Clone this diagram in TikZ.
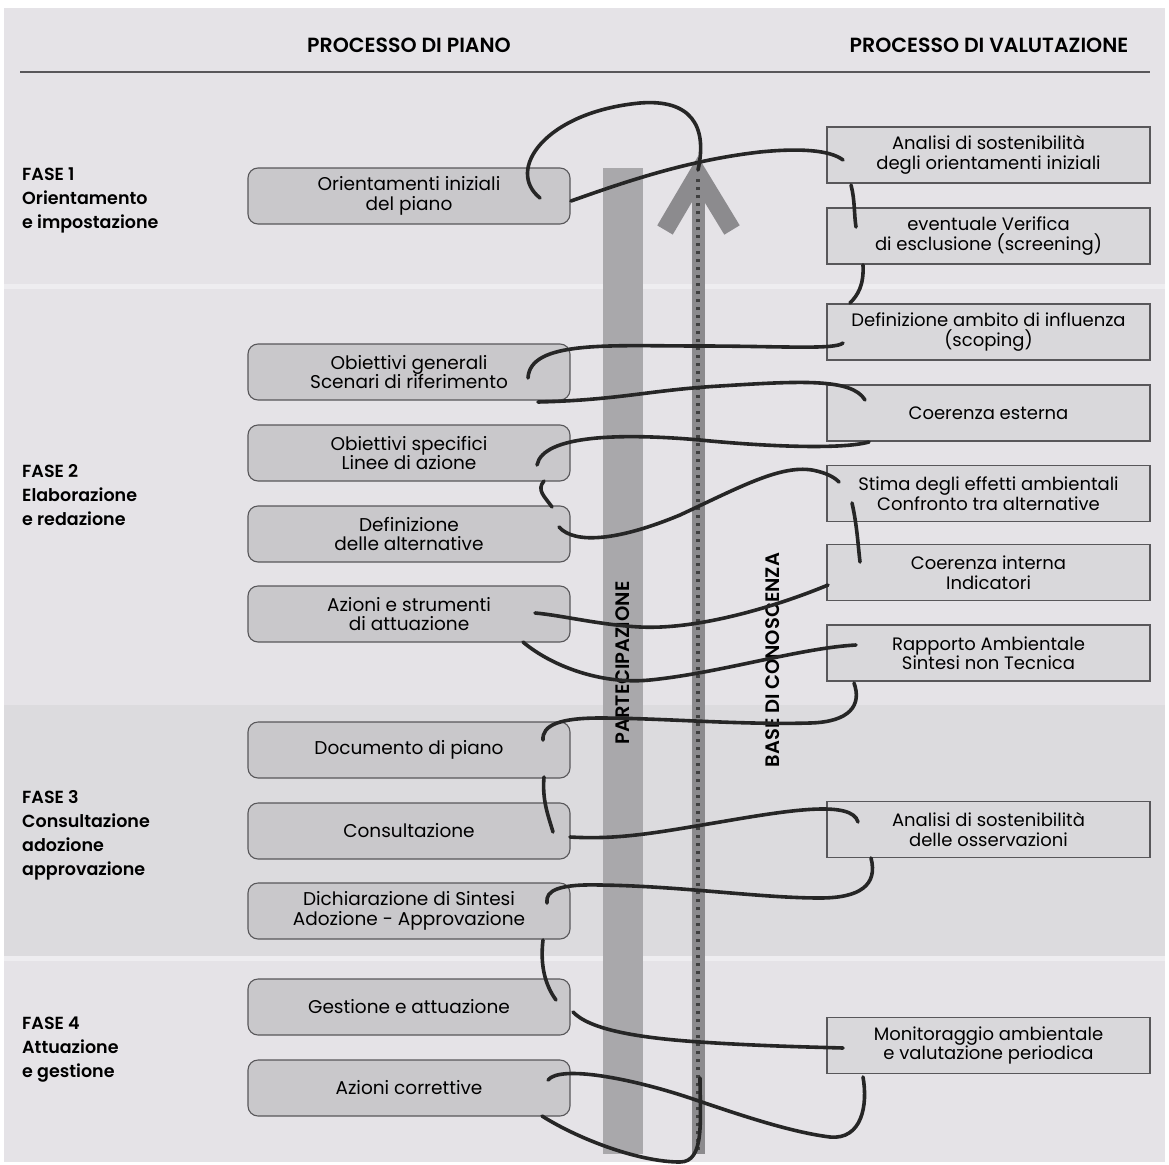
\documentclass[tikz,border=0pt]{standalone}
\usepackage{fontspec}
\setmainfont{Poppins}
\newfontfamily\psemi{Poppins SemiBold}
\usetikzlibrary{calc}
\definecolor{bgA}{HTML}{E5E3E7}
\definecolor{bgC}{HTML}{DCDBDE}
\definecolor{bandline}{HTML}{EEEDF0}
\definecolor{lfill}{HTML}{C9C8CB}
\definecolor{rfill}{HTML}{D9D8DB}
\definecolor{edge}{HTML}{58575A}
\definecolor{partbar}{HTML}{A9A8AB}
\definecolor{kshaft}{HTML}{8C8B8E}
\definecolor{thr}{HTML}{262626}
\tikzset{
  lbox/.style={draw=edge, line width=1.1pt, fill=lfill, rounded corners=10pt,
    minimum width=322pt, minimum height=56pt, align=center,
    font=\fontsize{18.5}{19.5}\selectfont, inner sep=0pt},
  rbox/.style={draw=edge, line width=1.1pt, fill=rfill,
    minimum width=323pt, minimum height=56pt, align=center,
    font=\fontsize{18}{19.5}\selectfont, inner sep=0pt},
  fase/.style={anchor=west, align=left, font=\fontsize{17.5}{24}\selectfont\psemi, inner sep=0pt},
  head/.style={font=\fontsize{20.5}{22}\selectfont\psemi, inner sep=0pt},
  vlabel/.style={rotate=90, font=\fontsize{19.5}{21}\selectfont\psemi, inner sep=0pt},
  thread/.style={draw=thr, line width=3.6pt, line cap=round},
}
\begin{document}
\begin{tikzpicture}[x=1pt,y=-1pt]
\useasboundingbox (0,0) rectangle (1169,1164);
\fill[white] (0,0) rectangle (1169,1164);
% bands
\fill[bgA] (4,8) rectangle (1165,1162);
\fill[bgC] (4,705) rectangle (1165,956);
\fill[bandline] (4,284) rectangle (1165,289);
\fill[bandline] (4,956) rectangle (1165,961);
% header
\node[head] (h1) at (409,45) {PROCESSO DI PIANO};
\node[head] (h2) at (989,45) {PROCESSO DI VALUTAZIONE};
\coordinate (hl1) at (20,72);
\coordinate (hl2) at (1150,72);
\draw[line width=1.2pt, edge] (hl1) -- (hl2);
% fase labels
\node[fase] (f1) at (22,200) {FASE 1\\Orientamento\\e impostazione};
\node[fase] (f2) at (22,495) {FASE 2\\Elaborazione\\e redazione};
\node[fase] (f3) at (22,835) {FASE 3\\Consultazione\\adozione\\approvazione};
\node[fase] (f4) at (22,1050) {FASE 4\\Attuazione\\e gestione};
% partecipazione bar
\fill[partbar] (603,168) rectangle (643,1154);
\node[vlabel] (part) at (623,663) {PARTECIPAZIONE};
% base di conoscenza arrow
\coordinate (kb) at (698,1154);
\coordinate (kt) at (698,170);
\draw[kshaft, line width=13pt] (kb) -- (kt);
\draw[black!75, line width=4pt, dash pattern=on 3pt off 5pt] (698,1150) -- (698,176);
\draw[kshaft, line width=18pt] (665,230) -- (698,174) -- (732,230);
\draw[black!75, line width=4pt, dash pattern=on 3pt off 5pt] (698,230) -- (698,176);
\node[vlabel] (base) at (773,660) {BASE DI CONOSCENZA};
% left boxes
\node[lbox] (lb1) at (409,196) {Orientamenti iniziali\\del piano};
\node[lbox] (lb2) at (409,372) {Obiettivi generali\\Scenari di riferimento};
\node[lbox] (lb3) at (409,453) {Obiettivi specifici\\Linee di azione};
\node[lbox] (lb4) at (409,534) {Definizione\\delle alternative};
\node[lbox] (lb5) at (409,614) {Azioni e strumenti\\di attuazione};
\node[lbox] (lb6) at (409,750) {Documento di piano};
\node[lbox] (lb7) at (409,831) {Consultazione};
\node[lbox] (lb8) at (409,911) {Dichiarazione di Sintesi\\Adozione - Approvazione};
\node[lbox] (lb9) at (409,1007) {Gestione e attuazione};
\node[lbox] (lb10) at (409,1088) {Azioni correttive};
% right boxes
\node[rbox] (rb1) at (988.5,155) {Analisi di sostenibilità\\degli orientamenti iniziali};
\node[rbox] (rb2) at (988.5,236) {eventuale Verifica\\di esclusione (screening)};
\node[rbox] (rb3) at (988.5,332) {Definizione ambito di influenza\\(scoping)};
\node[rbox] (rb4) at (988.5,413) {Coerenza esterna};
\node[rbox] (rb5) at (988.5,493.5) {Stima degli effetti ambientali\\Confronto tra alternative};
\node[rbox] (rb6) at (988.5,572.5) {Coerenza interna\\Indicatori};
\node[rbox] (rb7) at (988.5,653) {Rapporto Ambientale\\Sintesi non Tecnica};
\node[rbox] (rb8) at (988.5,829.5) {Analisi di sostenibilità\\delle osservazioni};
\node[rbox] (rb9) at (988.5,1045.5) {Monitoraggio ambientale\\e valutazione periodica};
% thread points
\coordinate (t0) at (540,198);
\coordinate (t0e) at (698,170);
\coordinate (t1) at (571,201);
\coordinate (t2) at (843,160);
\coordinate (t3) at (851,185);
\coordinate (t4) at (856,227);
\coordinate (t5) at (863,265);
\coordinate (t6) at (850,303);
\coordinate (t7) at (843,343);
\coordinate (t8) at (528,378);
\coordinate (t9) at (538,402);
\coordinate (t10) at (865,400);
\coordinate (t11) at (869,442);
\coordinate (t12) at (537,465);
\coordinate (t13) at (544,481);
\coordinate (t14) at (552,507);
\coordinate (t15) at (559,527);
\coordinate (t16) at (839,482);
\coordinate (t17) at (852,503);
\coordinate (t18) at (860,562);
\coordinate (t19) at (828,585);
\coordinate (t20) at (535,613);
\coordinate (t21) at (523,642);
\coordinate (t22) at (856,645);
\coordinate (t23) at (854,683);
\coordinate (t24) at (543,740);
\coordinate (t25) at (544,777);
\coordinate (t26) at (553,832);
\coordinate (t27) at (570,837);
\coordinate (t28) at (858,822);
\coordinate (t29) at (871,858);
\coordinate (t30) at (547,903);
\coordinate (t31) at (543,940);
\coordinate (t32) at (556,1000);
\coordinate (t33) at (573,1012);
\coordinate (t34) at (843,1048);
\coordinate (t35) at (863,1077);
\coordinate (t36) at (548,1080);
\coordinate (t37) at (542,1116);
\coordinate (t38) at (700,1078);
% thread
\draw[thread] (t0) .. controls (505,170) and (545,112) .. (640,103) .. controls (690,99) and (708,125) .. (t0e);
\draw[thread] (t1) .. controls (630,180) and (690,160) .. (760,152) .. controls (800,148) and (830,150) .. (t2);
\draw[thread] (t3) .. controls (855,200) and (854,215) .. (t4);
\draw[thread] (t5) .. controls (864,285) and (858,295) .. (t6);
\draw[thread] (t7) .. controls (835,350) and (780,346) .. (700,346) .. controls (610,346) and (530,340) .. (t8);
\draw[thread] (t9) .. controls (620,400) and (650,390) .. (720,386) .. controls (800,381) and (852,378) .. (t10);
\draw[thread] (t11) .. controls (840,450) and (760,446) .. (700,440) .. controls (620,433) and (543,435) .. (t12);
\draw[thread] (t13) .. controls (536,490) and (545,497) .. (t14);
\draw[thread] (t15) .. controls (575,545) and (620,540) .. (680,515) .. controls (740,487) and (780,465) .. (812,470) .. controls (828,473) and (835,478) .. (t16);
\draw[thread] (t17) .. controls (857,525) and (858,545) .. (t18);
\draw[thread] (t19) .. controls (780,605) and (700,630) .. (640,627) .. controls (600,625) and (560,615) .. (t20);
\draw[thread] (t21) .. controls (550,665) and (600,685) .. (650,680) .. controls (720,673) and (800,648) .. (t22);
\draw[thread] (t23) .. controls (862,705) and (850,722) .. (810,723) .. controls (740,725) and (660,718) .. (600,718) .. controls (560,718) and (542,725) .. (t24);
\draw[thread] (t25) .. controls (542,800) and (548,815) .. (t26);
\draw[thread] (t27) .. controls (620,840) and (660,832) .. (720,822) .. controls (790,810) and (852,800) .. (t28);
\draw[thread] (t29) .. controls (878,885) and (860,898) .. (820,898) .. controls (760,898) and (680,886) .. (600,885) .. controls (560,884) and (545,890) .. (t30);
\draw[thread] (t31) .. controls (540,965) and (545,985) .. (t32);
\draw[thread] (t33) .. controls (590,1030) and (640,1038) .. (700,1042) .. controls (760,1046) and (810,1047) .. (t34);
\draw[thread] (t35) .. controls (868,1105) and (862,1140) .. (830,1137) .. controls (790,1132) and (740,1115) .. (690,1098) .. controls (630,1078) and (560,1065) .. (t36);
\draw[thread] (t37) .. controls (580,1140) and (640,1162) .. (680,1162) .. controls (705,1162) and (700,1120) .. (t38);
\end{tikzpicture}
\end{document}
